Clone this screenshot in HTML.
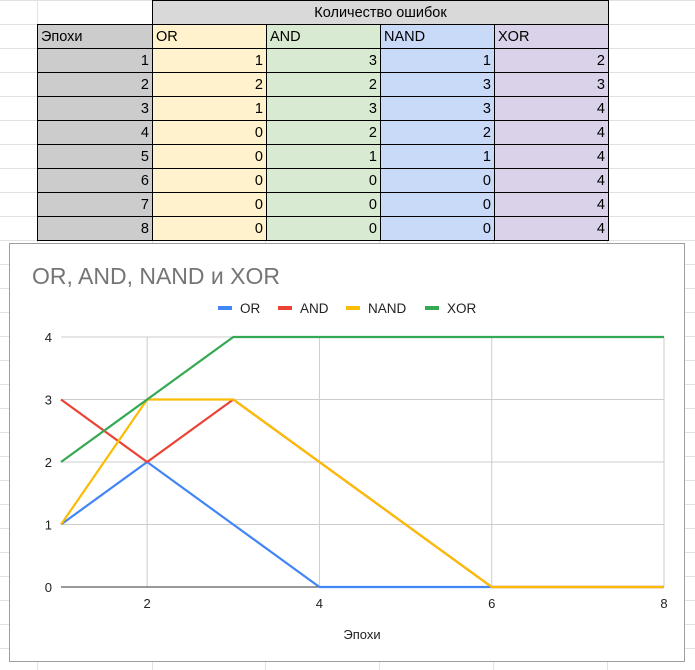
<!DOCTYPE html>
<html><head><meta charset="utf-8">
<style>
body{margin:0;width:695px;height:670px;overflow:hidden;background:#fff;font-family:"Liberation Sans",Arial,sans-serif;position:relative}
.gl{position:absolute;background:#e2e2e2}
table{position:absolute;left:37px;top:0;border-collapse:collapse;font-size:14.5px;color:#000}
td{height:23px;padding:0 3px;border:1px solid #000;box-sizing:border-box}
.c0{width:115px;background:#ccc;text-align:right}
.c{width:114px;text-align:right}
.or{background:#fff2cc}.and{background:#d9ead3}.nand{background:#c9daf8}.xor{background:#d9d2e9}
#chart{position:absolute;left:9px;top:243px;width:676px;height:419px;border:1px solid #9e9e9e;background:#fff;box-sizing:border-box}
</style></head><body>
<div id="grid"></div>
<table>
<tr style="height:24px"><td style="border:none;border-bottom:1px solid #000;background:#fff"></td><td colspan="4" style="background:#d9d9d9;text-align:center">Количество ошибок</td></tr>
<tr style="height:24px"><td class="c0" style="text-align:left">Эпохи</td><td class="c or" style="text-align:left">OR</td><td class="c and" style="text-align:left">AND</td><td class="c nand" style="text-align:left">NAND</td><td class="c xor" style="text-align:left">XOR</td></tr>
<tbody id="tb"></tbody>
</table>
<div id="chart">
<svg width="676" height="419" style="position:absolute;left:-1px;top:-1px" id="svg" font-family="Liberation Sans, Arial, sans-serif"></svg>
</div>
<script>
const epochs=[1,2,3,4,5,6,7,8];
const orVals=[1,2,1,0,0,0,0,0];
const andVals=[3,2,3,2,1,0,0,0];
const nandVals=[1,3,3,2,1,0,0,0];
const xorVals=[2,3,4,4,4,4,4,4];
const seriesNames=['OR','AND','NAND','XOR'];
const seriesColors=['#4285f4','#ea4335','#fbbc04','#34a853'];
const yTicks=[0,1,2,3,4];
const xTicks=[2,4,6,8];

const grid=document.getElementById('grid');
[37,152,265,379,493,607].forEach(x=>{const d=document.createElement('div');d.className='gl';d.style.cssText=`left:${x}px;top:0;width:1px;height:670px`;

grid.appendChild(d);});
for(let y=0;y<670;y+=24){const d=document.createElement('div');d.className='gl';d.style.cssText=`left:0;top:${y}px;width:695px;height:1px`;

grid.appendChild(d);}

const tb=document.getElementById('tb');
const cols=[orVals,andVals,nandVals,xorVals],cls=['or','and','nand','xor'];
epochs.forEach((e,i)=>{const tr=document.createElement('tr');tr.style.height='24px';
let h=`<td class="c0">${e}</td>`;
cols.forEach((c,j)=>{h+=`<td class="c ${cls[j]}">${c[i]}</td>`;});
tr.innerHTML=h;


tb.appendChild(tr);});

const ox=9,oy=243;
const X=v=>61+(v-1)*(664-61)/7-ox;
const Y=v=>587-v*62.5-oy;
const svg=document.getElementById('svg');
const NS='http://www.w3.org/2000/svg';
function mk(t,a,txt){const e=document.createElementNS(NS,t);for(const k in a)e.setAttribute(k,a[k]);if(txt!==undefined)e.textContent=txt;svg.appendChild(e);return e;}
let e=mk('text',{x:23,y:41,'font-size':23,fill:'#757575'},'OR, AND, NAND и XOR');


yTicks.forEach(v=>{
 if(v>0){e=mk('line',{x1:X(1),x2:X(8),y1:Y(v),y2:Y(v),stroke:'#ccc','stroke-width':1});
 
 }
 e=mk('text',{x:X(1)-9,y:Y(v)+5,'font-size':13,fill:'#222','text-anchor':'end'},String(v));
 
 
});
xTicks.forEach(v=>{
 e=mk('line',{x1:X(v),x2:X(v),y1:Y(4),y2:Y(0),stroke:'#ccc','stroke-width':1});
 
 
 e=mk('text',{x:X(v),y:Y(0)+21,'font-size':13,fill:'#222','text-anchor':'middle'},String(v));
 
 
});
e=mk('line',{x1:X(1),x2:X(8),y1:Y(0),y2:Y(0),stroke:'#333','stroke-width':1});


[orVals,andVals,nandVals,xorVals].forEach((vals,j)=>{
 e=mk('polyline',{points:vals.map((v,i)=>X(epochs[i])+','+Y(v)).join(' '),fill:'none',stroke:seriesColors[j],'stroke-width':2.2,'stroke-linejoin':'round'});
 
 
});
const legX=[218,278,346,425];
seriesNames.forEach((n,j)=>{
 e=mk('rect',{x:legX[j]-ox,y:308-oy-2,width:14,height:4,fill:seriesColors[j]});
 
 
 e=mk('text',{x:legX[j]-ox+22,y:308-oy+5,'font-size':13.5,fill:'#222'},n);
 
 
});
e=mk('text',{x:362-ox,y:639-oy,'font-size':13,fill:'#222','text-anchor':'middle'},'Эпохи');


</script>
</body></html>
